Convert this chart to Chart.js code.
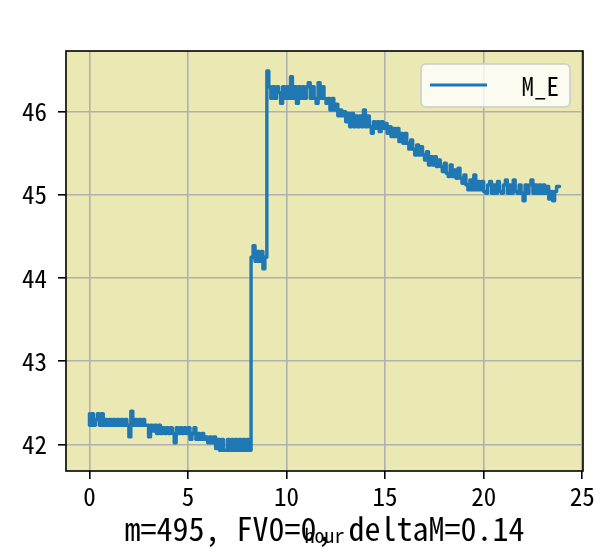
<!DOCTYPE html>
<html>
<head>
<meta charset="utf-8">
<script src="https://cdn.jsdelivr.net/npm/chart.js@4.4.1/dist/chart.umd.min.js"></script>
<style>
html,body{margin:0;padding:0;background:#fff;}
canvas{display:block;}
</style>
</head>
<body>
<canvas id="c" width="601" height="553"></canvas>
<script>
// ---- data ----
const hours = [
0,0.1,0.2,0.3,0.4,0.5,0.6,0.7,0.8,0.9,
1,1.1,1.2,1.3,1.4,1.5,1.6,1.7,1.8,1.9,
2,2.1,2.2,2.3,2.4,2.5,2.6,2.7,2.8,2.9,
3,3.1,3.2,3.3,3.4,3.5,3.6,3.7,3.8,3.9,
4,4.1,4.2,4.3,4.4,4.5,4.6,4.7,4.8,4.9,
5,5.1,5.2,5.3,5.4,5.5,5.6,5.7,5.8,5.9,
6,6.1,6.2,6.3,6.4,6.5,6.6,6.7,6.8,6.9,
7,7.1,7.2,7.3,7.4,7.5,7.6,7.7,7.8,7.9,
8,8.1,8.2,8.3,8.4,8.5,8.6,8.7,8.8,8.9,
9,9.1,9.2,9.3,9.4,9.5,9.6,9.7,9.8,9.9,
10,10.1,10.2,10.3,10.4,10.5,10.6,10.7,10.8,10.9,
11,11.1,11.2,11.3,11.4,11.5,11.6,11.7,11.8,11.9,
12,12.1,12.2,12.3,12.4,12.5,12.6,12.7,12.8,12.9,
13,13.1,13.2,13.3,13.4,13.5,13.6,13.7,13.8,13.9,
14,14.1,14.2,14.3,14.4,14.5,14.6,14.7,14.8,14.9,
15,15.1,15.2,15.3,15.4,15.5,15.6,15.7,15.8,15.9,
16,16.1,16.2,16.3,16.4,16.5,16.6,16.7,16.8,16.9,
17,17.1,17.2,17.3,17.4,17.5,17.6,17.7,17.8,17.9,
18,18.1,18.2,18.3,18.4,18.5,18.6,18.7,18.8,18.9,
19,19.1,19.2,19.3,19.4,19.5,19.6,19.7,19.8,19.9,
20,20.1,20.2,20.3,20.4,20.5,20.6,20.7,20.8,20.9,
21,21.1,21.2,21.3,21.4,21.5,21.6,21.7,21.8,21.9,
22,22.1,22.2,22.3,22.4,22.5,22.6,22.7,22.8,22.9,
23,23.1,23.2,23.3,23.4,23.5,23.6,23.7,23.85
];
const mE = [
42.37,42.23,42.37,42.23,42.30,42.37,42.23,42.37,42.23,42.30,
42.23,42.30,42.23,42.30,42.23,42.30,42.23,42.30,42.23,42.30,
42.23,42.09,42.40,42.23,42.30,42.23,42.30,42.23,42.30,42.23,
42.23,42.09,42.23,42.16,42.23,42.13,42.23,42.13,42.20,42.13,
42.20,42.13,42.20,42.13,42.02,42.20,42.13,42.20,42.13,42.20,
42.13,42.20,42.06,42.13,42.20,42.06,42.13,42.06,42.13,42.06,
42.09,42.02,42.09,42.02,42.09,41.95,42.06,41.93,42.06,41.93,
41.93,42.06,41.93,42.06,41.93,42.06,41.93,42.06,41.93,42.06,
41.93,42.06,41.93,44.25,44.39,44.20,44.32,44.20,44.32,44.11,
44.25,46.49,46.30,46.16,46.30,46.16,46.30,46.23,46.10,46.30,
46.16,46.30,46.16,46.42,46.16,46.30,46.10,46.30,46.16,46.30,
46.16,46.30,46.35,46.16,46.30,46.16,46.10,46.35,46.16,46.30,
46.16,46.10,46.16,46.02,46.16,46.02,46.09,45.95,46.02,45.95,
46.00,45.88,45.98,45.82,45.98,45.82,45.95,45.82,45.95,45.82,
46.02,45.82,45.95,45.82,45.74,45.88,45.80,45.88,45.76,45.88,
45.80,45.86,45.74,45.82,45.70,45.80,45.70,45.80,45.64,45.74,
45.62,45.74,45.62,45.55,45.66,45.55,45.48,45.60,45.48,45.58,
45.48,45.42,45.52,45.36,45.46,45.36,45.46,45.34,45.42,45.34,
45.28,45.38,45.26,45.22,45.36,45.22,45.30,45.20,45.32,45.20,
45.14,45.24,45.12,45.06,45.18,45.06,45.24,45.06,45.16,45.06,
45.16,45.04,45.02,45.12,45.16,45.02,45.12,45.02,45.16,45.04,
45.02,45.12,45.18,45.02,45.12,45.02,45.18,45.04,45.02,45.12,
45.02,44.93,45.12,45.02,45.12,45.18,45.02,45.12,45.02,45.12,
45.02,45.12,45.02,45.10,44.95,45.04,44.93,45.04,45.10
];
const xTicks = [0,5,10,15,20,25];
const yTicks = [42,43,44,45,46];
const seriesLabel = 'M_E';
const xLabel = 'hour';
const titleText = 'm=495, FV0=0, deltaM=0.14';

const MONO = '"Noto Sans Mono CJK SC","Noto Sans CJK SC","DejaVu Sans Mono",monospace';

const points = hours.map((h,i)=>({x:h, y:mE[i]}));

const decor = {
  id:'decor',
  beforeDraw(chart){
    const {ctx, chartArea:a} = chart;
    ctx.save();
    ctx.fillStyle='#fff';
    ctx.fillRect(0,0,chart.width,chart.height);
    ctx.fillStyle='#eae8b3';
    ctx.fillRect(a.left,a.top,a.right-a.left,a.bottom-a.top);
    ctx.restore();
  },
  afterDraw(chart){
    const {ctx, chartArea:a} = chart;
    ctx.save();
    // frame
    ctx.strokeStyle='#000';
    ctx.lineWidth=1.6;
    ctx.strokeRect(a.left,a.top,a.right-a.left,a.bottom-a.top);
    // legend
    const lx=421, ly=64, lw=149, lh=43, r=5;
    ctx.beginPath();
    ctx.moveTo(lx+r,ly);
    ctx.arcTo(lx+lw,ly,lx+lw,ly+lh,r);
    ctx.arcTo(lx+lw,ly+lh,lx,ly+lh,r);
    ctx.arcTo(lx,ly+lh,lx,ly,r);
    ctx.arcTo(lx,ly,lx+lw,ly,r);
    ctx.closePath();
    ctx.fillStyle='rgba(255,255,255,0.8)';
    ctx.fill();
    ctx.strokeStyle='rgba(204,204,204,0.8)';
    ctx.lineWidth=2;
    ctx.stroke();
    const ds = chart.data.datasets[0];
    ctx.beginPath();
    ctx.moveTo(430,85);ctx.lineTo(487,85);
    ctx.strokeStyle=ds.borderColor;ctx.lineWidth=3.2;ctx.stroke();
    ctx.fillStyle='#000';
    ctx.font='25px '+MONO;
    ctx.textAlign='right';ctx.textBaseline='middle';
    ctx.fillText(ds.label,559,86);
    // title line and x label
    ctx.textAlign='center';
    ctx.font='32px '+MONO;
    ctx.fillText(titleText,(a.left+a.right)/2,529);
    ctx.font='20px '+MONO;
    ctx.fillText(xLabel,(a.left+a.right)/2,535);
    ctx.restore();
  }
};

new Chart(document.getElementById('c'),{
  type:'line',
  data:{datasets:[{
    label:seriesLabel,
    data:points,
    borderColor:'#1f77b4',
    borderWidth:3.4,
    pointRadius:0,
    stepped:'after',
    fill:false,
    borderJoinStyle:'round',
    borderCapStyle:'round'
  }]},
  options:{
    responsive:false,
    animation:false,
    devicePixelRatio:1,
    layout:{padding:{left:0,top:51,right:18,bottom:0}},
    plugins:{legend:{display:false},tooltip:{enabled:false},title:{display:false}},
    scales:{
      x:{
        type:'linear',
        min:-1.19, max:25.04,
        afterBuildTicks(s){ s.ticks = xTicks.map(v=>({value:v})); },
        afterFit(s){ s.height = 82; },
        ticks:{color:'#000',font:{family:MONO,size:25},padding:2,maxRotation:0,autoSkip:false},
        grid:{color:'#b0b0b0',lineWidth:1.6,tickColor:'#000',tickLength:8,tickWidth:1.6},
        border:{display:false}
      },
      y:{
        type:'linear',
        min:41.68, max:46.73,
        afterBuildTicks(s){ s.ticks = yTicks.map(v=>({value:v})); },
        afterFit(s){ s.width = 66; },
        ticks:{color:'#000',font:{family:MONO,size:25},padding:11,autoSkip:false},
        grid:{color:'#b0b0b0',lineWidth:1.6,tickColor:'#000',tickLength:8,tickWidth:1.6},
        border:{display:false}
      }
    }
  },
  plugins:[decor]
});
</script>
</body>
</html>
